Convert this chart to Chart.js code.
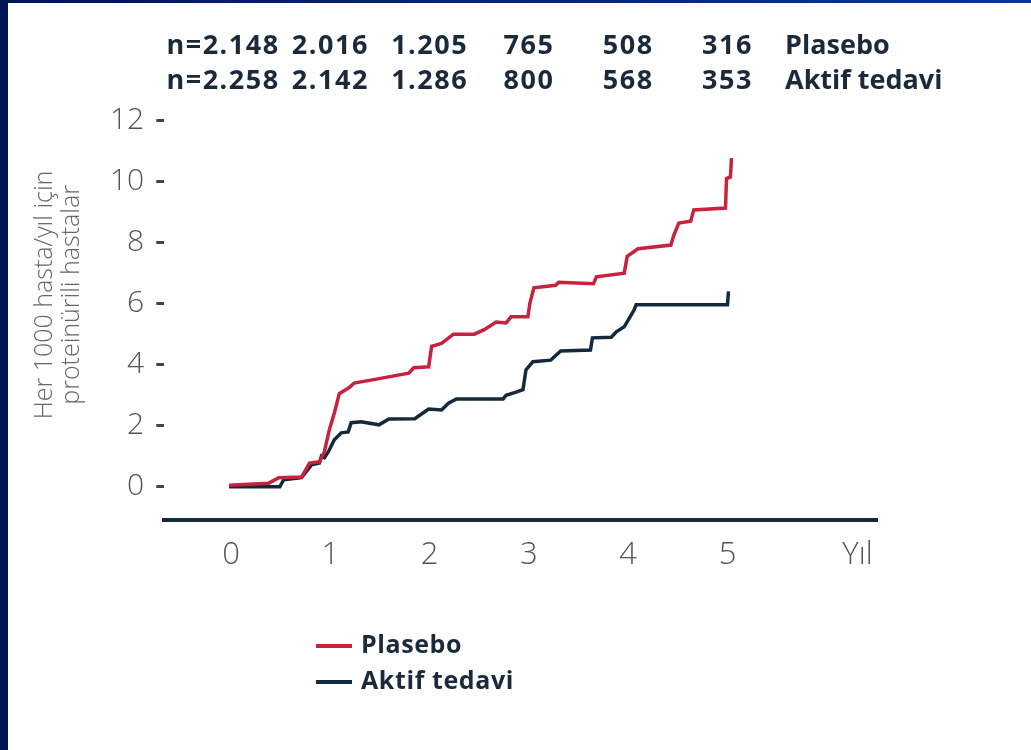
<!DOCTYPE html>
<html><head><meta charset="utf-8">
<script src="https://cdn.jsdelivr.net/npm/chart.js@4.4.0/dist/chart.umd.min.js"></script>
<style>
html,body{margin:0;padding:0;background:#fff;width:1031px;height:750px;overflow:hidden}
#wrap{position:absolute;left:0;top:0;width:1031px;height:750px}
#lb{position:absolute;left:0;top:0;width:8px;height:750px;background:#001556}
#tb{position:absolute;left:0;top:0;width:1031px;height:3px;background:linear-gradient(to right,#001556,#0a33a8)}
</style></head><body>
<div id="wrap"><canvas id="c" width="1031" height="750"></canvas></div>
<div id="lb"></div><div id="tb"></div>
<script>
// ---- data ----
const years = [0, 1, 2, 3, 4, 5];
const plaseboAtRisk = ['n=2.148', '2.016', '1.205', '765', '508', '316'];
const aktifAtRisk   = ['n=2.258', '2.142', '1.286', '800', '568', '353'];
const seriesNames = ['Plasebo', 'Aktif tedavi'];
const yTicks = [0, 2, 4, 6, 8, 10, 12];
const xTicks = [0, 1, 2, 3, 4, 5];
const xAxisName = 'Yıl';
const yAxisTitle = ['Her 1000 hasta/yıl için', 'proteinürili hastalar'];

const plaseboX = [-0.02,0.38,0.48,0.71,0.79,0.89,0.94,0.99,1.04,1.09,1.19,1.24,1.45,1.79,1.84,1.99,2.02,2.12,2.24,2.45,2.55,2.67,2.77,2.82,2.99,3.01,3.05,3.27,3.30,3.65,3.68,3.96,3.99,4.10,4.43,4.46,4.51,4.63,4.66,4.98,4.99,5.03,5.04];
const plaseboY = [0.05,0.12,0.30,0.32,0.78,0.82,1.15,1.87,2.42,3.05,3.25,3.40,3.52,3.72,3.90,3.93,4.60,4.70,5.00,5.00,5.15,5.40,5.37,5.57,5.57,6.02,6.52,6.60,6.70,6.65,6.88,7.00,7.55,7.80,7.92,8.25,8.64,8.70,9.07,9.13,10.10,10.15,10.77];

const aktifX = [-0.02,0.49,0.53,0.71,0.81,0.89,0.91,0.94,0.98,1.04,1.11,1.18,1.21,1.31,1.49,1.59,1.85,1.99,2.12,2.19,2.27,2.74,2.77,2.87,2.94,2.97,3.04,3.22,3.32,3.62,3.64,3.83,3.88,3.96,4.01,4.06,4.08,5.00,5.01];
const aktifY = [0.00,0.00,0.23,0.30,0.72,0.78,1.00,0.95,1.15,1.54,1.77,1.80,2.10,2.13,2.03,2.22,2.23,2.55,2.52,2.74,2.88,2.88,3.00,3.10,3.18,3.83,4.10,4.15,4.45,4.48,4.88,4.90,5.08,5.24,5.52,5.80,5.96,5.96,6.40];

const plaseboColor = '#c8223c';
const aktifColor = '#13293d';

// ---- build ----
const toPts = (xs, ys) => xs.map((x, i) => ({x: x, y: ys[i]}));
const yilPos = 6.31;

const extras = {
  id: 'extras',
  afterDraw(chart) {
    const ctx = chart.ctx, xs = chart.scales.x;
    ctx.save();
    ctx.fillStyle = '#1b2a3a';
    ctx.textBaseline = 'middle';
    [plaseboAtRisk, aktifAtRisk].forEach((row, r) => {
      const y = 46 + r * 35;
      ctx.font = 'bold 27px "Open Sans"';
      ctx.letterSpacing = '1.5px';
      row.forEach((t, i) => {
        ctx.textAlign = 'center';
        let px = xs.getPixelForValue(years[i]);
        if (i === 0) px -= 8;
        ctx.fillText(t, px, y);
      });
      ctx.letterSpacing = '0px';
      ctx.textAlign = 'left';
      ctx.fillText(seriesNames[r], 785, y);
    });
    chart.data.datasets.forEach((ds, i) => {
      const y = 646 + i * 36;
      ctx.strokeStyle = ds.borderColor;
      ctx.lineWidth = 4;
      ctx.beginPath(); ctx.moveTo(316, y); ctx.lineTo(352, y); ctx.stroke();
      ctx.textAlign = 'left';
      ctx.font = 'bold 25px "Open Sans"';
      ctx.letterSpacing = '0.6px';
      ctx.fillText(ds.label, 361, y);
    });
    ctx.restore();
  }
};

new Chart(document.getElementById('c'), {
  type: 'line',
  data: {
    datasets: [
      {label: seriesNames[0], data: toPts(plaseboX, plaseboY), borderColor: plaseboColor, borderWidth: 3.5, pointRadius: 0, tension: 0, fill: false},
      {label: seriesNames[1], data: toPts(aktifX, aktifY), borderColor: aktifColor, borderWidth: 3.5, pointRadius: 0, tension: 0, fill: false}
    ]
  },
  options: {
    responsive: false,
    animation: false,
    devicePixelRatio: 1,
    layout: {padding: {left: 8, right: 154, top: 70, bottom: 159}},
    plugins: {legend: {display: false}, tooltip: {enabled: false}},
    scales: {
      x: {
        type: 'linear',
        min: -0.673, max: 6.506,
        afterBuildTicks: s => { s.ticks = xTicks.concat([yilPos]).map(v => ({value: v})); },
        ticks: {
          autoSkip: false, maxRotation: 0, padding: 17,
          color: '#555', font: {family: '"Open Sans"', size: 31, weight: '300'},
          callback: v => (v === yilPos ? xAxisName : String(v))
        },
        grid: {display: false, drawTicks: false},
        border: {display: true, color: '#13293d', width: 4}
      },
      y: {
        type: 'linear',
        min: -1.0805, max: 13.654,
        afterBuildTicks: s => { s.ticks = yTicks.map(v => ({value: v})); },
        ticks: {
          padding: 12, color: '#555',
          font: {family: '"Open Sans"', size: 30, weight: '300'}
        },
        grid: {display: true, drawOnChartArea: false, drawTicks: true, tickLength: 8, lineWidth: 3, color: '#444'},
        border: {display: false},
        title: {
          display: true, text: yAxisTitle, color: '#666',
          font: {family: '"Open Sans"', size: 25, weight: '300', lineHeight: 1.1},
          padding: {top: 23, bottom: 12}
        }
      }
    }
  },
  plugins: [extras]
});
</script>
</body></html>
